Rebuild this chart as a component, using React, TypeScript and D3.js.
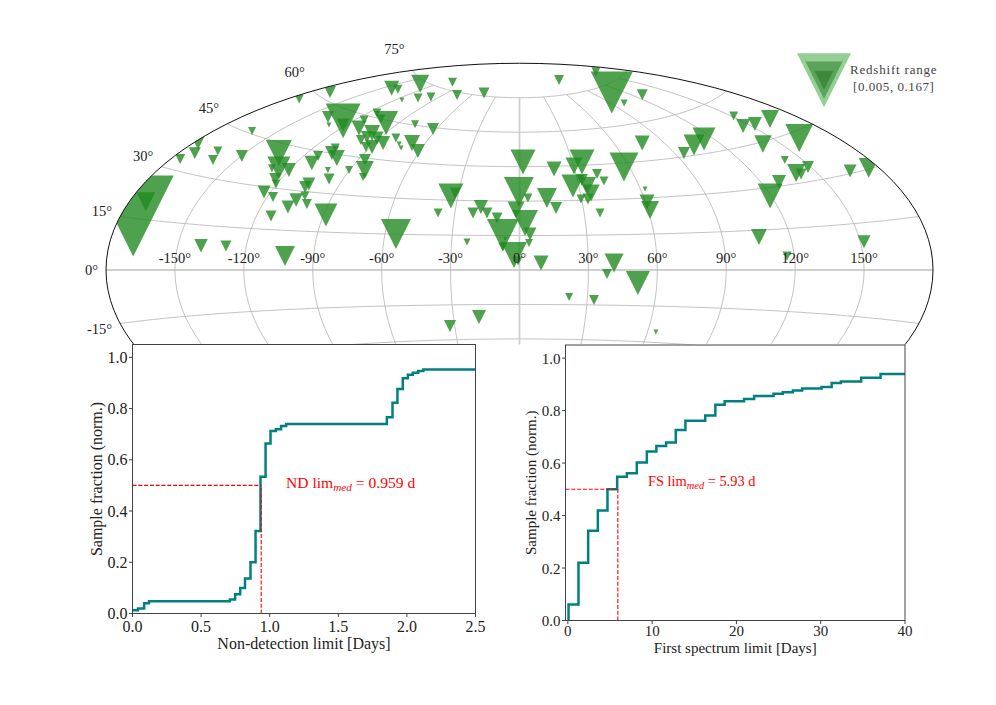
import * as d3 from "d3";

/* ---------- sky map data ---------- */

const lon = [
  -174.4, -172.7, -175.9, -172.8, -177.9, -163.8, -160.7, -149.7, -162.7, -174.8,
  -170.6, -133.9, -125.7, -129.0, -120.0, -122.7, -120.3, -123.0, -117.3, -113.5,
  -107.8, -105.9, -102.9, -99.9, -104.8, -105.6, -88.9, -55.1, -139.8, -128.9,
  -102.4, -112.1, -112.7, -107.2, -108.6, -102.0, -100.9, -96.9, -90.4, -82.3,
  -86.4, -80.8, -138.3, -125.8, -121.9, -129.6, -110.0, -114.6, -114.3, -105.2,
  -98.1, -98.3, -99.7, -98.3, -91.8, -89.1, -92.5, -85.2, -80.6, -75.3,
  -72.1, -68.1, -61.0, -78.1, -62.5, -143.9, -138.1, -135.0, -115.1, -106.5,
  -97.5, -109.9, -76.3, -48.2, -33.4, -31.7, -37.8, -21.6, -18.2, -15.1,
  -10.3, -23.2, -32.2, -18.4, -7.4, -6.4, -7.3, -2.4, -0.6, 9.4,
  2.0, -0.3, 4.1, 13.3, 17.2, -1.6, 2.5, 4.7, 4.2, 18.9,
  30.2, 35.4, 27.0, 32.3, 34.1, 35.2, 33.0, 29.7, 41.1, 43.4,
  37.4, 57.1, 77.1, 62.3, 60.7, 60.9, 109.1, 157.9, 81.2, 127.9,
  101.0, 151.1, 145.9, 153.7, 165.6, 162.7, 141.2, 114.7, 105.2, 95.1,
  141.7, 148.7, 140.3, 142.1, 165.7, 175.5, 128.5, 119.5, 106.1, 151.6,
  116.8, 41.2, 38.1, 51.7, 21.9, 33.0, 63.9,
];

const lat = [
  15.6, 20.0, 33.2, 35.7, 38.3, 38.0, 35.3, 38.4, 45.8, 57.2,
  61.9, 41.8, 37.0, 36.6, 36.9, 33.2, 31.5, 28.2, 26.8, 20.0,
  23.7, 26.6, 28.3, 25.4, 32.9, 31.7, 21.7, 15.1, 8.1, 8.4,
  5.3, 40.5, 43.3, 45.1, 47.1, 43.6, 38.8, 35.6, 39.8, 40.4,
  44.3, 37.6, 56.2, 56.4, 55.2, 54.0, 55.4, 58.4, 61.6, 60.0,
  59.0, 54.6, 51.4, 52.8, 53.1, 49.5, 49.2, 51.6, 54.1, 52.0,
  50.5, 52.9, 49.9, 60.4, 59.4, 69.7, 70.2, 73.9, 67.7, 69.8,
  71.2, 77.7, 73.9, 76.2, 31.8, 33.1, 24.4, 24.7, 27.3, 24.7,
  22.6, 12.1, -24.1, -20.4, 15.2, 13.5, 10.0, 6.5, 3.9, 3.0,
  47.0, 34.0, 31.3, 31.3, 26.9, 26.1, 20.5, 15.7, 11.7, 43.8,
  44.8, 46.4, 36.3, 38.7, 36.1, 33.0, 30.5, 30.6, 41.0, 37.9,
  24.4, 43.3, 52.2, 33.7, 28.3, 25.0, 72.3, 78.9, 80.9, 68.7,
  67.9, 54.3, 50.9, 50.4, 50.1, 43.0, 44.3, 50.1, 48.7, 46.4,
  38.1, 34.5, 33.4, 32.8, 30.7, 30.3, 31.4, 27.0, 12.4, 9.0,
  5.1, 3.0, -1.7, -5.5, -11.7, -12.9, -25.7,
];

const redshift = [
  0.005, 0.0213, 0.0405, 0.0338, 0.0312, 0.045, 0.0405, 0.0338, 0.0506, 0.045,
  0.0338, 0.0156, 0.0176, 0.0506, 0.0289, 0.0338, 0.045, 0.0312, 0.0405, 0.0368,
  0.0312, 0.03, 0.045, 0.0405, 0.0312, 0.0338, 0.0176, 0.0135, 0.03, 0.0368,
  0.0203, 0.0279, 0.0405, 0.0289, 0.045, 0.0253, 0.0675, 0.0368, 0.0506, 0.0225,
  0.0338, 0.0506, 0.0338, 0.0116, 0.0312, 0.081, 0.027, 0.045, 0.045, 0.045,
  0.0169, 0.0253, 0.0405, 0.0338, 0.0312, 0.0289, 0.0405, 0.0289, 0.045, 0.081,
  0.081, 0.0253, 0.0289, 0.0506, 0.0338, 0.027, 0.045, 0.0225, 0.081, 0.045,
  0.045, 0.045, 0.0405, 0.0368, 0.0162, 0.0368, 0.045, 0.0368, 0.0289, 0.0368,
  0.0368, 0.0579, 0.0338, 0.0289, 0.0127, 0.101, 0.045, 0.0156, 0.045, 0.027,
  0.0162, 0.0135, 0.045, 0.0203, 0.0338, 0.0238, 0.0156, 0.0312, 0.0506, 0.027,
  0.0238, 0.0162, 0.0176, 0.0338, 0.0225, 0.0238, 0.0368, 0.045, 0.0405, 0.045,
  0.045, 0.014, 0.027, 0.081, 0.027, 0.0225, 0.0096, 0.045, 0.0405, 0.0368,
  0.0579, 0.045, 0.0289, 0.0289, 0.0225, 0.0145, 0.0231, 0.0176, 0.0193, 0.0338,
  0.0506, 0.0338, 0.0225, 0.0368, 0.0312, 0.0203, 0.0289, 0.0162, 0.0253, 0.0312,
  0.045, 0.0213, 0.0405, 0.0169, 0.0506, 0.0405, 0.081,
];

const lonGrid = [-150, -120, -90, -60, -30, 0, 30, 60, 90, 120, 150];
const latGrid = [-75, -60, -45, -30, -15, 0, 15, 30, 45, 60, 75];
const latLabels = [75, 60, 45, 30, 15, 0, -15];
const legendRedshift = [0.0075, 0.0109, 0.0213];
const legendFill = ["#93cf93", "#5ba35b", "#3d8a3d"];

/* ---------- cumulative curves ---------- */

const ndDays = [
  0, 0.04, 0.085, 0.12, 0.71, 0.748, 0.785, 0.82, 0.86, 0.897, 0.933, 0.97,
  1.006, 1.045, 1.083, 1.12, 1.854, 1.895, 1.931, 1.97, 2.007, 2.043, 2.082, 2.12, 2.5,
];
const ndFraction = [
  0.013, 0.02, 0.04, 0.048, 0.055, 0.075, 0.1, 0.137, 0.2, 0.322, 0.534, 0.664,
  0.712, 0.719, 0.732, 0.74, 0.766, 0.823, 0.876, 0.918, 0.932, 0.94, 0.947, 0.952, 0.952,
];
const fsDays = [
  0.08, 0.08, 1.26, 2.41, 3.56, 4.7, 5.85, 7.0, 8.18, 9.37, 10.5, 11.66, 12.8, 13.95,
  16.3, 17.5, 18.6, 20.9, 22.1, 24.4, 25.5, 26.7, 27.8, 30.1, 31.3, 32.4, 34.8, 37.1, 40,
];
const fsFraction = [
  0, 0.061, 0.22, 0.342, 0.419, 0.5, 0.548, 0.561, 0.602, 0.644, 0.665, 0.678, 0.726, 0.761,
  0.781, 0.822, 0.836, 0.844, 0.856, 0.864, 0.87, 0.877, 0.884, 0.89, 0.905, 0.911, 0.925, 0.939, 0.939,
];
const fracTicks = [0, 0.2, 0.4, 0.6, 0.8, 1.0];
const ndTicks = [0, 0.5, 1.0, 1.5, 2.0, 2.5];
const fsTicks = [0, 10, 20, 30, 40];

/* ---------- theme ---------- */

const FONT = "'Liberation Serif', serif";
const GREEN = "#228b22";
const TEAL = "#008080";
const RED = "#f00";
const GRID = "#b4b4b4";
const SPINE = "#444";

/* ---------- projection ---------- */

function aitoffRaw(l: number, p: number): [number, number] {
  const a = Math.acos(Math.cos(p) * Math.cos(l / 2));
  const s = a === 0 ? 1 : Math.sin(a) / a;
  return [(2 * Math.cos(p) * Math.sin(l / 2)) / s, Math.sin(p) / s];
}

const projection = d3
  .geoProjection(aitoffRaw as any)
  .scale(413.5 / Math.PI)
  .translate([519.5, 270])
  .precision(0.2);

const geoPath = d3.geoPath(projection);
const spherePath = geoPath({ type: "Sphere" } as any) ?? "";
const gridLine = d3.line<[number, number]>().curve(d3.curveLinear);

const parallel = (phi: number) =>
  gridLine(d3.range(-180, 181, 3).map((l) => projection([l, phi]) as [number, number]));
const meridian = (l: number) =>
  gridLine(d3.range(-75, 75.5, 3).map((p) => projection([l, p]) as [number, number]));

// marker width in px goes as 1 / z
const markerWidth = d3.scaleLinear().domain([0, 1 / 0.005]).range([0, 81]);

function triangle(cx: number, cy: number, z: number) {
  const h = markerWidth(1 / z) / 2;
  const p = d3.path();
  p.moveTo(cx - h, cy - h);
  p.lineTo(cx + h, cy - h);
  p.lineTo(cx, cy + h);
  p.closePath();
  return p.toString();
}

/* ---------- inset panel ---------- */

type PanelProps = {
  left: number;
  right: number;
  top: number;
  bottom: number;
  xDomain: [number, number];
  xTicks: number[];
  xFormat: (d: number) => string;
  xLabel: string;
  xs: number[];
  ys: number[];
  median: number;
  labelName: string;
  labelValue: string;
  labelX: number;
  labelY: number;
  labelSize: number;
  yLabelX: number;
  tickGap: number;
  labelGap: number;
  textSize: number;
};

function Panel(props: PanelProps) {
  const { left, right, top, bottom, xDomain, xTicks, xFormat, xLabel, xs, ys, median } = props;
  const x = d3.scaleLinear().domain(xDomain).range([left, right]);
  const y = d3.scaleLinear().domain([0, 1.05]).range([bottom, top]);
  const step = d3
    .line<number>()
    .x((d) => x(d))
    .y((_, i) => y(ys[i]))
    .curve(d3.curveStepAfter);
  const midY = (top + bottom) / 2;

  return (
    <g fontFamily={FONT} fill="#222" fontSize={props.textSize}>
      <rect x={left} y={top} width={right - left} height={bottom - top} fill="#fff" />
      <path d={step(xs) ?? ""} fill="none" stroke={TEAL} strokeWidth={2.5} />
      <line x1={x(xDomain[0])} x2={x(median)} y1={y(0.5)} y2={y(0.5)} stroke={RED} strokeWidth={1.1} strokeDasharray="4 1.8" />
      <line x1={x(median)} x2={x(median)} y1={y(0)} y2={y(0.5)} stroke={RED} strokeWidth={1.1} strokeDasharray="4 1.8" />
      <rect x={left} y={top} width={right - left} height={bottom - top} fill="none" stroke={SPINE} strokeWidth={1} />
      {xTicks.map((t) => (
        <g key={t}>
          <line x1={x(t)} x2={x(t)} y1={bottom} y2={bottom + 3.5} stroke={SPINE} />
          <text x={x(t)} y={bottom + props.tickGap} textAnchor="middle">
            {xFormat(t)}
          </text>
        </g>
      ))}
      {fracTicks.map((t) => (
        <g key={t}>
          <line x1={left - 3.5} x2={left} y1={y(t)} y2={y(t)} stroke={SPINE} />
          <text x={left - 5} y={y(t) + 5.5} textAnchor="end">
            {t.toFixed(1)}
          </text>
        </g>
      ))}
      <text x={(left + right) / 2} y={bottom + props.labelGap} textAnchor="middle">
        {xLabel}
      </text>
      <text transform={`translate(${props.yLabelX},${midY}) rotate(-90)`} textAnchor="middle">
        Sample fraction (norm.)
      </text>
      <text x={props.labelX} y={props.labelY} fill={RED} fontSize={props.labelSize}>
        {props.labelName} lim
        <tspan fontStyle="italic" fontSize={props.labelSize * 0.72} dy={3}>
          med
        </tspan>
        <tspan dy={-3}> = {props.labelValue} d</tspan>
      </text>
    </g>
  );
}

/* ---------- chart ---------- */

export default function App() {
  return (
    <svg
      width={996}
      height={705}
      style={{ position: "absolute", left: 0, top: 0, background: "#fff" }}
    >
      <defs>
        <clipPath id="sky">
          <path d={spherePath} />
        </clipPath>
        <clipPath id="cut">
          <rect x={0} y={0} width={996} height={344.5} />
        </clipPath>
      </defs>

      <g clipPath="url(#cut)">
        <g fill="none">
          {latGrid.map((p) => (
            <path key={p} d={parallel(p) ?? ""} stroke={p === 0 ? "#cfcfcf" : GRID} strokeWidth={p === 0 ? 1.8 : 0.8} />
          ))}
          {lonGrid.map((l) => (
            <path key={l} d={meridian(l) ?? ""} stroke={l === 0 ? "#cfcfcf" : GRID} strokeWidth={l === 0 ? 1.8 : 0.8} />
          ))}
        </g>
        <g clipPath="url(#sky)">
          {lon.map((l, i) => {
            const [px, py] = projection([l, lat[i]]) as [number, number];
            return <path key={i} d={triangle(px, py, redshift[i])} fill={GREEN} fillOpacity={0.8} />;
          })}
        </g>
        <path d={spherePath} fill="none" stroke="#111" strokeWidth={1} />
      </g>

      <g fontFamily={FONT} fontSize={14.5} fill="#222">
        {lonGrid.map((l) => {
          const [px] = projection([l, 0]) as [number, number];
          return (
            <text key={l} x={px} y={263} textAnchor="middle">
              {l}°
            </text>
          );
        })}
        {latLabels.map((p) => {
          const [px, py] = projection([-180, p]) as [number, number];
          const shift = -22 * Math.sin((p * Math.PI) / 180);
          return (
            <text key={p} x={px - 8} y={py + shift + 5} textAnchor="end">
              {p}°
            </text>
          );
        })}
      </g>

      <g>
        {legendRedshift.map((z, i) => (
          <path key={z} d={triangle(824, 80.2, z)} fill={legendFill[i]} />
        ))}
        <g fontFamily={FONT} fontSize={13} fill="#444" letterSpacing={0.8}>
          <text x={850} y={74}>Redshift range</text>
          <text x={853} y={91} letterSpacing={0.55}>[0.005, 0.167]</text>
        </g>
      </g>

      <Panel
        left={132.5}
        right={475.5}
        top={344.5}
        bottom={613.5}
        xDomain={[0, 2.5]}
        xTicks={ndTicks}
        xFormat={(d) => d.toFixed(1)}
        xLabel="Non-detection limit [Days]"
        xs={ndDays}
        ys={ndFraction}
        median={0.938}
        labelName="ND"
        labelValue="0.959"
        labelX={286}
        labelY={488}
        labelSize={15.6}
        yLabelX={102}
        tickGap={18}
        labelGap={35}
        textSize={16}
      />
      <Panel
        left={565.5}
        right={905}
        top={345}
        bottom={620.5}
        xDomain={[-0.28, 40]}
        xTicks={fsTicks}
        xFormat={(d) => String(d)}
        xLabel="First spectrum limit [Days]"
        xs={fsDays}
        ys={fsFraction}
        median={5.93}
        labelName="FS"
        labelValue="5.93"
        labelX={648}
        labelY={486}
        labelSize={14.4}
        yLabelX={536}
        tickGap={15.5}
        labelGap={32}
        textSize={15}
      />
    </svg>
  );
}
